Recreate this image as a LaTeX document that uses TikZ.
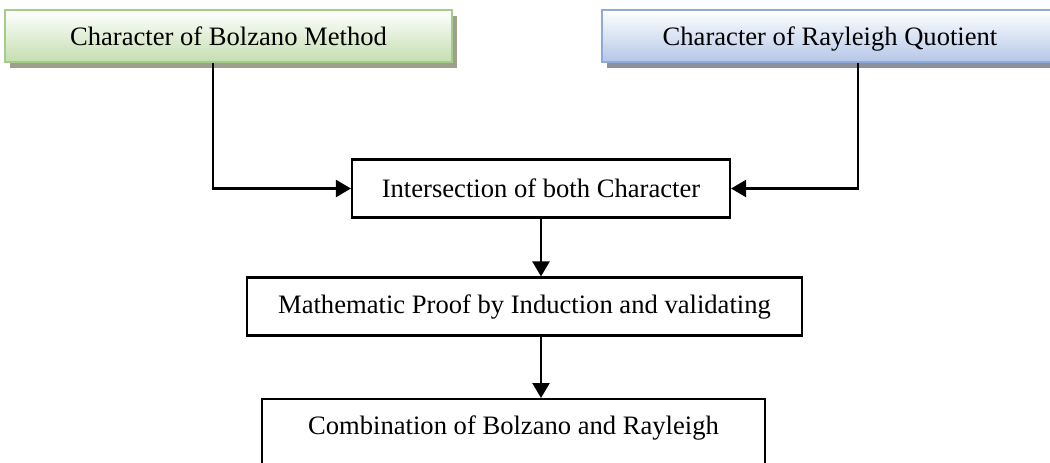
\documentclass[tikz,border=0pt]{standalone}
\usepackage{fontspec}
\setmainfont{Liberation Serif}
\usepackage{tikz}
\usetikzlibrary{arrows.meta,shapes,positioning,calc,shadows}
\definecolor{bolzline}{RGB}{166,204,138}
\definecolor{bolzfill}{RGB}{196,222,176}
\definecolor{bolzshadow}{RGB}{156,160,140}
\definecolor{raylline}{RGB}{142,170,219}
\definecolor{raylfill}{RGB}{180,199,231}
\definecolor{raylshadow}{RGB}{140,144,158}

\begin{document}
\begin{tikzpicture}[
    x=0.5pt, y=-0.5pt,
    font=\fontsize{13.3}{16}\selectfont,
    charbox/.style={rectangle, line width=1.2pt, minimum height=26pt,
                 text height=9.2pt, text depth=0pt, top color=white, align=center},
    procbox/.style={rectangle, draw=black, line width=1.1pt, fill=white,
                 minimum height=29pt, align=center},
    arr/.style={->, >={Triangle[length=7.5pt,width=8.5pt]}, line width=1.2pt, black}
  ]
    \useasboundingbox (0,0) rectangle (1050,462);

    \node[charbox, draw=bolzline, bottom color=bolzfill, minimum width=223.5pt,
          drop shadow={shadow xshift=2.5pt, shadow yshift=-3pt, fill=bolzshadow, opacity=1}]
          (bolz) at (228.5,36) {Character of Bolzano Method};
    \node[charbox, draw=raylline, bottom color=raylfill, minimum width=228pt,
          drop shadow={shadow xshift=2.5pt, shadow yshift=-3pt, fill=raylshadow, opacity=1}]
          (rayl) at (830,36) {Character of Rayleigh Quotient};

    \node[procbox, minimum width=189pt] (inter) at (541,188.5) {Intersection of both Character};
    \node[procbox, minimum width=277.5pt] (proof) at (524.5,306.5) {Mathematic Proof by Induction and validating};
    \node[procbox, anchor=north, minimum width=251.5pt, inner ysep=8.5pt, text depth=40pt]
          (comb) at (513.5,398) {Combination of Bolzano and Rayleigh};

    \draw[arr] ([xshift=-7.75pt]bolz.south) |- (inter.west);
    \draw[arr] ([xshift=14pt]rayl.south) |- (inter.east);
    \draw[arr] (inter.south) -- (inter.south |- proof.north);
    \draw[arr] (inter.south |- proof.south) -- (inter.south |- comb.north);
  \end{tikzpicture}
\end{document}
